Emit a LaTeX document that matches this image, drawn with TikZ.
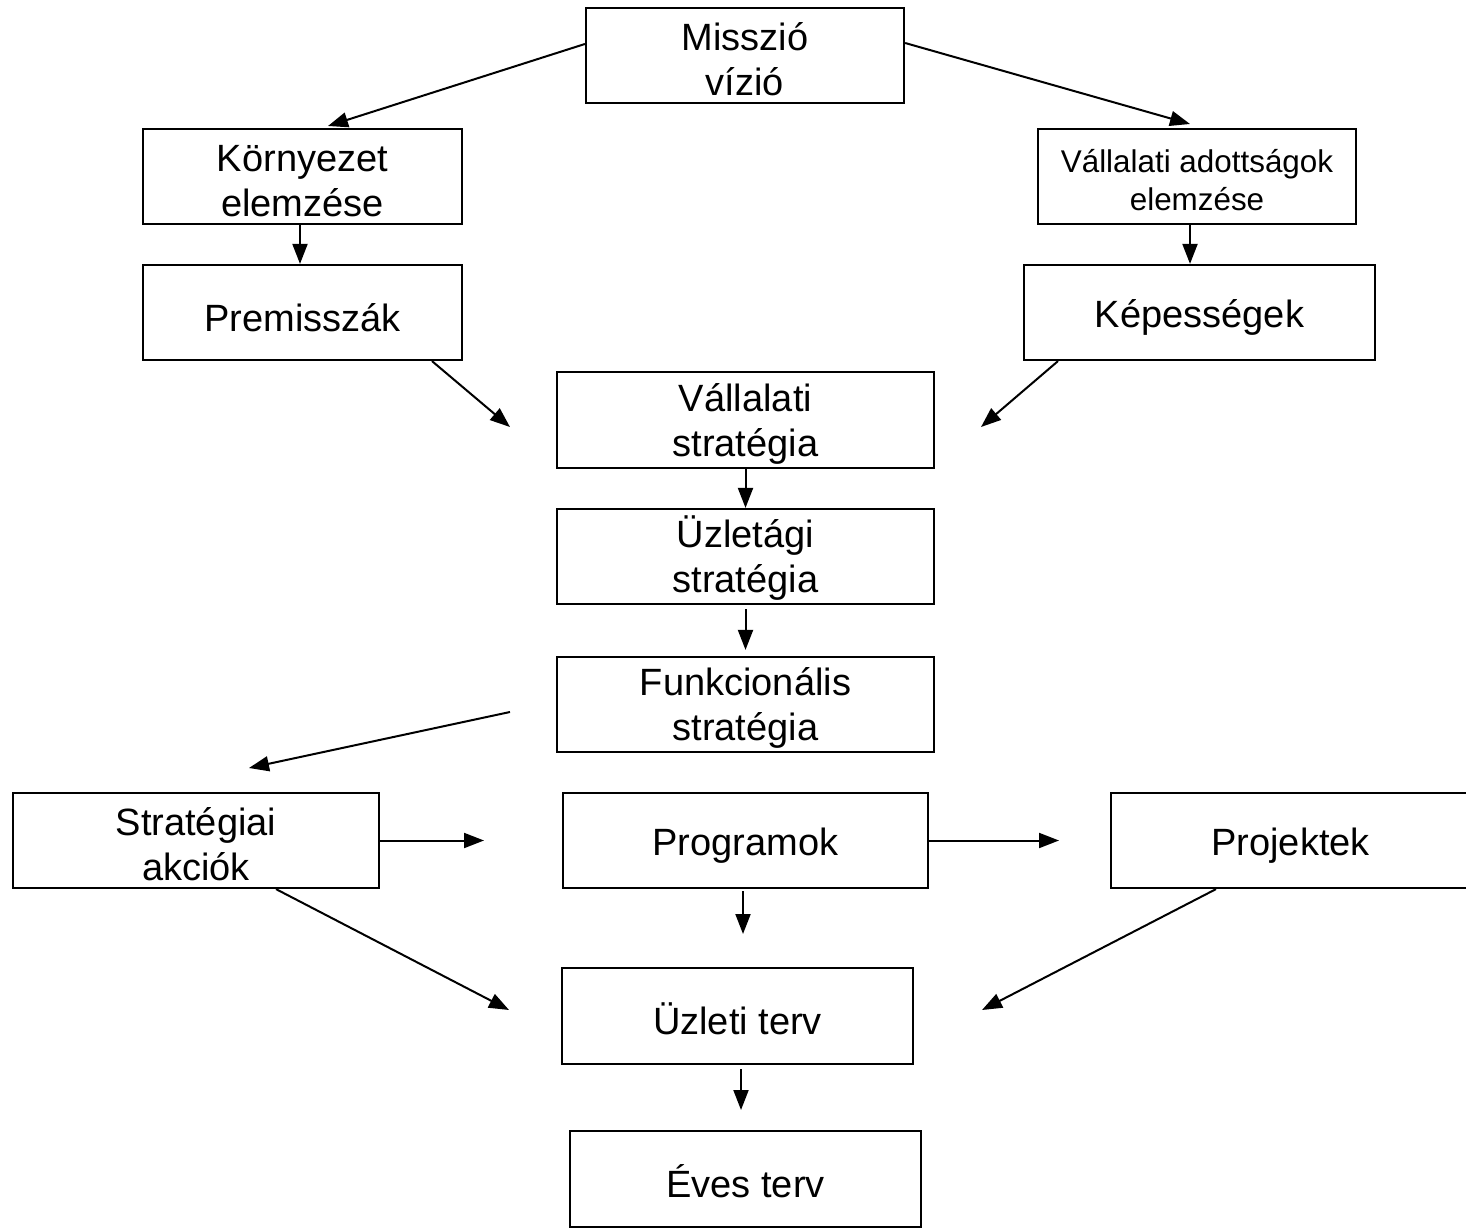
\documentclass[tikz,border=0pt]{standalone}
\usepackage{fontspec}
\setmainfont{Liberation Sans}
\usetikzlibrary{arrows.meta}
\begin{document}
\begin{tikzpicture}[x=0.5pt,y=-0.5pt,
  base/.style={draw=black, line width=1.1pt, inner sep=0pt, align=center,
    font=\fontsize{19pt}{22.5pt}\selectfont, minimum height=47.5pt},
  box/.style={base, execute at begin node={\rule{0pt}{19pt}}},
  twobox/.style={base, text height=40pt},
  smallbox/.style={base, font=\fontsize{15.7pt}{19pt}\selectfont, text height=34pt},
  arr/.style={line width=1pt, -{Triangle[length=10pt,width=7.5pt]}}]
\useasboundingbox (0,0) rectangle (1466,1229);
% boxes
\node[twobox, minimum width=159pt] (mis) at (745,55.5) {Misszió\\vízió};
\node[twobox, minimum width=159.5pt] (kor) at (302.5,176.5) {Környezet\\elemzése};
\node[smallbox, minimum width=159pt] (vad) at (1197,176.5) {Vállalati adottságok\\elemzése};
\node[box, minimum width=159.5pt] (pre) at (302.5,312.5) {Premisszák};
\node[box, minimum width=175.5pt] (kep) at (1199.5,312.5) {Képességek};
\node[twobox, minimum width=188.5pt, minimum height=48pt] (vst) at (745.5,420) {Vállalati\\stratégia};
\node[twobox, minimum width=188.5pt] (uzs) at (745.5,556.5) {Üzletági\\stratégia};
\node[twobox, minimum width=188.5pt] (fun) at (745.5,704.5) {Funkcionális\\stratégia};
\node[twobox, minimum width=183pt] (sta) at (196,840.5) {Stratégiai\\akciók};
\node[box, minimum width=182.5pt] (pro) at (745.5,840.5) {Programok};
\node[box, minimum width=179.5pt] (prj) at (1290.5,840.5) {Projektek};
\node[box, minimum width=175.5pt, minimum height=48pt] (uzt) at (737.5,1016) {Üzleti terv};
\node[box, minimum width=175.5pt, minimum height=48pt] (eve) at (745.5,1179) {Éves terv};
% free ends
\coordinate (c1) at (328,126);
\coordinate (c2) at (1190,124);
\coordinate (c5) at (510,427);
\coordinate (c6) at (981,427);
\coordinate (c9a) at (510,712);
\coordinate (c9b) at (249,768);
\coordinate (c10) at (484,840.5);
\coordinate (c11) at (1059,840.5);
\coordinate (c12) at (743,934);
\coordinate (c13) at (509,1010);
\coordinate (c14) at (982,1010);
\coordinate (c15) at (741,1110);
% connectors
\draw[arr] ([yshift=5.75pt]mis.west) -- (c1);
\draw[arr] ([yshift=6.25pt]mis.east) -- (c2);
\draw[arr] ([xshift=-1.25pt]kor.south) -- ([xshift=-1.25pt]pre.north);
\draw[arr] ([xshift=-3.5pt]vad.south) -- ([xshift=-3.5pt]vad.south |- kep.north);
\draw[arr] ([xshift=64.75pt]pre.south) -- (c5);
\draw[arr] ([xshift=-70.75pt]kep.south) -- (c6);
\draw[arr] (vst.south) -- (uzs.north);
\draw[arr] ([yshift=-2pt]uzs.south) -- ([yshift=3pt]fun.north);
\draw[arr] (c9a) -- (c9b);
\draw[arr] (sta.east) -- (c10);
\draw[arr] (pro.east) -- (c11);
\draw[arr] ([xshift=-1.25pt,yshift=-1pt]pro.south) -- (c12);
\draw[arr] ([xshift=40pt]sta.south) -- (c13);
\draw[arr] ([xshift=-37.25pt]prj.south) -- (c14);
\draw[arr] ([xshift=1.75pt,yshift=-2pt]uzt.south) -- (c15);
\end{tikzpicture}
\end{document}
